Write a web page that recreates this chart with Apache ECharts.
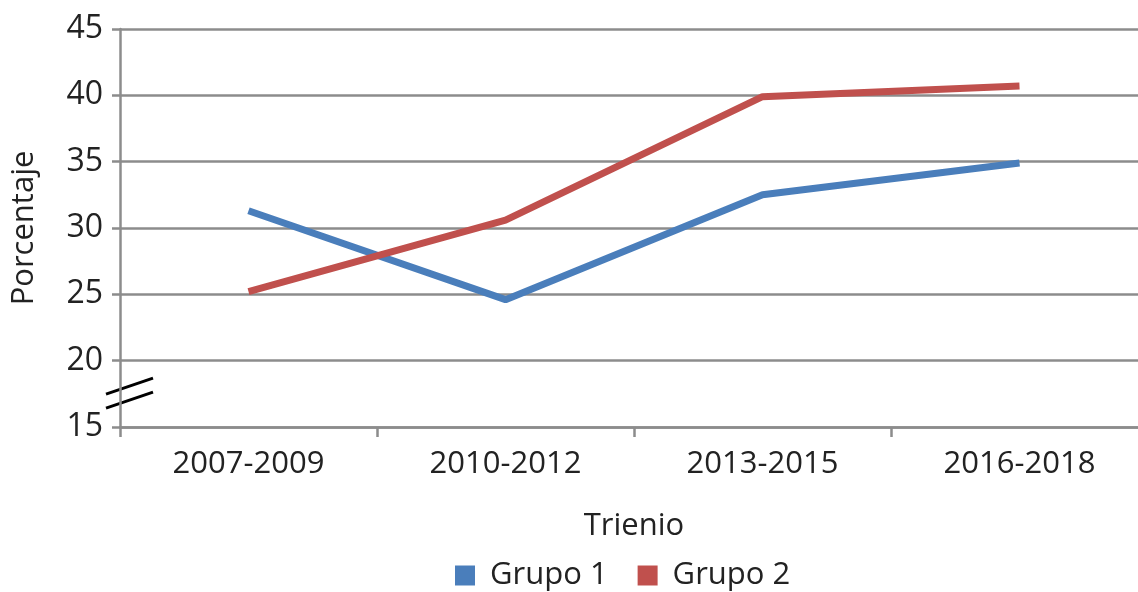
<!DOCTYPE html>
<html>
<head>
<meta charset="utf-8">
<script src="https://cdn.jsdelivr.net/npm/echarts@6/dist/echarts.min.js"></script>
<style>
    html, body { margin: 0; padding: 0; background: #fff; }
    #chart { width: 1138px; height: 592px; }
</style>
</head>
<body>
<div id="chart"></div>
<script>
    // Data
    const trienios = ['2007-2009', '2010-2012', '2013-2015', '2016-2018'];
    const grupo1 = [31.3, 24.6, 32.5, 34.9];
    const grupo2 = [25.2, 30.6, 39.9, 40.7];
    const yMin = 15, yMax = 45, yStep = 5;

    const font = '"Open Sans", Lato, sans-serif';
    const gridColor = '#8c8c8c';
    const textColor = '#222';

    const chart = echarts.init(document.getElementById('chart'));
    const option = {
        animation: false,
        backgroundColor: '#fff',
        textStyle: { fontFamily: font, color: textColor },
        color: ['#4a7ebb', '#c0504d'],
        grid: { left: 120, top: 29, width: 1028, bottom: 165, outerBoundsMode: 'none', containLabel: false },
        legend: {
            bottom: -4,
            left: 450,
            itemWidth: 20,
            itemHeight: 20,
            itemGap: 30,
            icon: 'rect',
            textStyle: { fontSize: 31, color: textColor, fontFamily: font, padding: [0, 0, 0, 10] },
            data: ['Grupo 1', 'Grupo 2']
        },
        xAxis: {
            type: 'category',
            data: trienios,
            boundaryGap: true,
            name: 'Trienio',
            nameLocation: 'middle',
            nameGap: 84,
            nameTextStyle: { fontSize: 31, color: textColor, fontFamily: font },
            axisLine: { lineStyle: { color: gridColor, width: 2.5 } },
            axisTick: { show: true, length: 10, lineStyle: { color: gridColor, width: 2.5 } },
            axisLabel: { fontSize: 31, color: textColor, margin: 22 }
        },
        yAxis: {
            type: 'value',
            min: yMin,
            max: yMax,
            interval: yStep,
            name: 'Porcentaje',
            nameLocation: 'middle',
            nameRotate: 90,
            nameGap: 80,
            nameTextStyle: { fontSize: 31, color: textColor, fontFamily: font },
            axisLine: { show: true, lineStyle: { color: gridColor, width: 2.5 } },
            axisTick: { show: true, length: 8, lineStyle: { color: gridColor, width: 2.5 } },
            splitLine: { show: true, lineStyle: { color: gridColor, width: 2.5 } },
            axisLabel: { fontSize: 32, color: textColor, margin: 17 }
        },
        series: [
            {
                name: 'Grupo 1',
                type: 'line',
                data: grupo1,
                symbol: 'none',
                lineStyle: { width: 7 }
            },
            {
                name: 'Grupo 2',
                type: 'line',
                data: grupo2,
                symbol: 'none',
                lineStyle: { width: 7 }
            }
        ]
    };
    chart.setOption(option);

    // Axis break mark between 15 and 20
    const mid = chart.convertToPixel({ yAxisIndex: 0 }, 17.4);
    const c0 = chart.convertToPixel({ xAxisIndex: 0 }, trienios[0]);
    const c1 = chart.convertToPixel({ xAxisIndex: 0 }, trienios[1]);
    const ax = c0 - (c1 - c0) / 2 - 14;
    chart.setOption({
        graphic: [
            { type: 'line', shape: { x1: ax, y1: mid - 1, x2: ax + 47, y2: mid - 17 }, style: { stroke: '#000', lineWidth: 3 } },
            { type: 'line', shape: { x1: ax, y1: mid + 13, x2: ax + 47, y2: mid - 3 }, style: { stroke: '#000', lineWidth: 3 } }
        ]
    });
</script>
</body>
</html>
